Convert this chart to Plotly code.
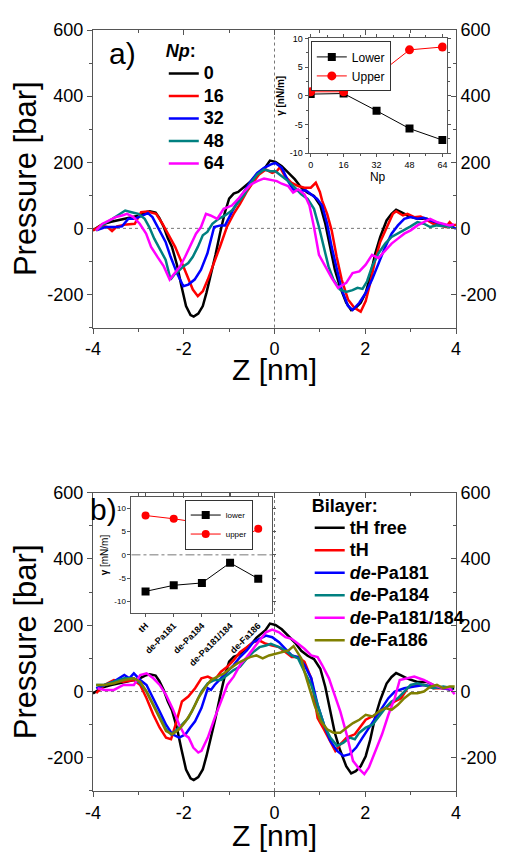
import plotly.graph_objects as go

FONT = "Arial, 'Liberation Sans', sans-serif"

# ---------------- panel a) pressure profiles (Z [nm], P [bar]) ----------------
np0 = [(-4.0, -6), (-3.8, 12), (-3.6, 20), (-3.4, 26), (-3.2, 30), (-3.0, 38), (-2.85, 48), (-2.75, 52),
       (-2.62, 48), (-2.54, 32), (-2.44, 4), (-2.35, -30), (-2.26, -56), (-2.15, -110), (-2.05, -175),
       (-1.95, -235), (-1.85, -262), (-1.78, -267), (-1.68, -258), (-1.58, -235), (-1.5, -195), (-1.4, -140),
       (-1.3, -80), (-1.2, -15), (-1.1, 45), (-1.0, 90), (-0.9, 105), (-0.8, 110), (-0.7, 122), (-0.6, 132),
       (-0.5, 145), (-0.4, 162), (-0.3, 175), (-0.2, 185), (-0.1, 205), (0.02, 201), (0.16, 188), (0.3, 168),
       (0.45, 148), (0.59, 123), (0.73, 108), (0.87, 98), (1.01, 69), (1.12, 14), (1.23, -56), (1.33, -125),
       (1.44, -175), (1.58, -225), (1.69, -247), (1.79, -240), (1.9, -225), (2.01, -195), (2.11, -145),
       (2.22, -76), (2.33, -26), (2.47, 24), (2.58, 44), (2.68, 56), (2.79, 49), (2.93, 39), (3.15, 29),
       (3.36, 29), (3.58, 14), (3.79, 9), (3.96, 9)]

np16 = [(-4.0, -6), (-3.82, 9), (-3.68, 4), (-3.58, -8), (-3.47, 6), (-3.26, 12), (-3.08, 14), (-2.94, 49),
        (-2.8, 51), (-2.61, 44), (-2.47, 14), (-2.33, -21), (-2.19, -56), (-2.04, -105), (-1.9, -155),
        (-1.8, -185), (-1.69, -205), (-1.58, -190), (-1.47, -155), (-1.33, -105), (-1.19, -51), (-1.05, 4),
        (-0.9, 44), (-0.76, 74), (-0.62, 109), (-0.48, 138), (-0.34, 163), (-0.19, 178), (-0.05, 168),
        (0.05, 173), (0.12, 185), (0.23, 158), (0.37, 138), (0.52, 128), (0.66, 123), (0.8, 123), (0.91, 138),
        (1.0, 110), (1.05, 84), (1.16, 44), (1.26, -6), (1.37, -86), (1.48, -155), (1.62, -215), (1.76, -240),
        (1.9, -252), (2.01, -220), (2.11, -165), (2.22, -95), (2.33, -41), (2.47, 4), (2.61, 44), (2.68, 52),
        (2.83, 39), (2.93, 44), (3.08, 34), (3.22, 36), (3.36, 24), (3.5, 14), (3.64, 9), (3.78, 4),
        (3.86, 19), (3.93, 9), (4.0, 11)]

np32 = [(-3.93, -6), (-3.72, 4), (-3.5, 4), (-3.36, 6), (-3.22, 29), (-3.08, 29), (-2.9, 39), (-2.79, 46),
        (-2.69, 34), (-2.54, -6), (-2.4, -41), (-2.29, -86), (-2.15, -135), (-2.01, -175), (-1.9, -170),
        (-1.76, -155), (-1.62, -125), (-1.48, -76), (-1.33, 4), (-1.19, 9), (-1.09, 9), (-0.94, 49),
        (-0.8, 84), (-0.66, 113), (-0.52, 143), (-0.38, 168), (-0.23, 183), (-0.09, 193), (0.02, 198),
        (0.16, 183), (0.3, 143), (0.41, 118), (0.55, 113), (0.69, 115), (0.8, 103), (0.94, 89), (1.05, 69),
        (1.16, 14), (1.26, -56), (1.37, -125), (1.48, -185), (1.62, -235), (1.72, -247), (1.87, -225),
        (2.01, -195), (2.15, -155), (2.29, -105), (2.44, -56), (2.58, -16), (2.72, 9), (2.86, 29), (3.0, 34),
        (3.15, 29), (3.29, 32), (3.43, 24), (3.65, 16), (3.86, 6), (4.0, -1)]

np48 = [(-3.93, -6), (-3.75, 14), (-3.57, 29), (-3.4, 44), (-3.29, 54), (-3.15, 49), (-3.0, 44), (-2.86, 29),
        (-2.76, 4), (-2.65, -31), (-2.51, -66), (-2.4, -95), (-2.29, -155), (-2.21, -140), (-2.12, -130),
        (-2.01, -115), (-1.9, -105), (-1.8, -86), (-1.69, -56), (-1.58, -21), (-1.48, -11), (-1.37, 14),
        (-1.23, 29), (-1.09, 39), (-0.94, 54), (-0.8, 79), (-0.66, 103), (-0.52, 138), (-0.38, 163),
        (-0.23, 178), (-0.09, 173), (0.02, 173), (0.16, 158), (0.3, 143), (0.45, 123), (0.59, 103),
        (0.73, 89), (0.87, 59), (0.98, 4), (1.08, -56), (1.19, -115), (1.3, -155), (1.44, -185),
        (1.58, -192), (1.72, -187), (1.83, -180), (1.94, -183), (2.04, -160), (2.15, -115), (2.29, -76),
        (2.44, -46), (2.58, -26), (2.72, -16), (2.86, -6), (3.0, 6), (3.15, 19), (3.29, 14), (3.43, 4),
        (3.58, 9), (3.75, 6), (3.93, 4)]

np64 = [(-3.93, -6), (-3.79, 14), (-3.64, 24), (-3.5, 34), (-3.36, 39), (-3.25, 44), (-3.11, 34),
        (-2.97, 14), (-2.83, -16), (-2.72, -56), (-2.58, -86), (-2.44, -115), (-2.31, -155), (-2.22, -140),
        (-2.08, -115), (-1.97, -86), (-1.87, -56), (-1.73, -16), (-1.62, 4), (-1.51, 44), (-1.41, 39),
        (-1.26, 29), (-1.12, 59), (-0.94, 69), (-0.8, 89), (-0.66, 113), (-0.52, 133), (-0.38, 143),
        (-0.23, 151), (-0.09, 148), (0.05, 143), (0.16, 135), (0.3, 128), (0.41, 108), (0.52, 118),
        (0.66, 103), (0.77, 69), (0.87, 4), (0.98, -80), (1.12, -115), (1.26, -150), (1.4, -180),
        (1.58, -165), (1.72, -135), (1.87, -130), (2.01, -110), (2.15, -80), (2.29, -90), (2.44, -66),
        (2.58, -46), (2.72, -31), (2.86, -16), (3.0, -6), (3.15, 9), (3.29, 19), (3.43, 29), (3.58, 19),
        (3.72, 14), (3.86, 9), (3.96, 12)]

np_labels = ["0", "16", "32", "48", "64"]
np_colors = ["#000000", "#ff0000", "#0000ff", "#008080", "#ff00ff"]
np_series = [np0, np16, np32, np48, np64]

# inset a): surface tension vs Np
inset_a_np = [0, 16, 32, 48, 64]
inset_a_lower = [0.3, 0.4, -2.6, -5.7, -7.7]
inset_a_upper = [0.7, 0.7, 3.5, 8.0, 8.5]

# ---------------- panel b) pressure profiles ----------------
th_free = np0  # same free bilayer profile

th = [(-3.93, -5), (-3.75, 20), (-3.54, 35), (-3.33, 30), (-3.1, 35), (-2.96, 20), (-2.82, -20),
      (-2.67, -70), (-2.53, -109), (-2.39, -139), (-2.28, -144), (-2.18, -100), (-2.04, -30), (-1.9, -15),
      (-1.75, 10), (-1.61, 40), (-1.47, 45), (-1.32, 35), (-1.18, 60), (-1.04, 75), (-0.9, 95), (-0.76, 119),
      (-0.61, 134), (-0.47, 149), (-0.33, 154), (-0.19, 144), (-0.05, 139), (0.1, 134), (0.24, 119),
      (0.38, 104), (0.52, 104), (0.66, 90), (0.81, 40), (0.95, -80), (1.09, -114), (1.23, -149),
      (1.34, -179), (1.45, -159), (1.59, -139), (1.77, -129), (1.87, -109), (2.01, -85), (2.23, -70),
      (2.44, -50), (2.65, -30), (2.79, -20), (2.93, 10), (3.08, 20), (3.29, 20), (3.5, 10), (3.72, 10),
      (3.93, 5)]

de_pa181 = [(-3.93, 10), (-3.75, 20), (-3.54, 30), (-3.31, 50), (-3.2, 40), (-3.1, 55), (-2.96, 35),
            (-2.82, 20), (-2.67, -20), (-2.53, -60), (-2.39, -100), (-2.25, -129), (-2.1, -139),
            (-1.96, -129), (-1.86, -109), (-1.75, -90), (-1.61, -50), (-1.47, 10), (-1.4, 5), (-1.32, 20),
            (-1.18, 40), (-1.04, 60), (-0.9, 80), (-0.76, 104), (-0.61, 124), (-0.47, 149), (-0.33, 159),
            (-0.19, 169), (-0.05, 164), (0.1, 149), (0.24, 129), (0.38, 109), (0.52, 104), (0.66, 80),
            (0.81, 40), (0.95, -40), (1.09, -100), (1.23, -149), (1.38, -179), (1.52, -194), (1.66, -189),
            (1.8, -169), (1.94, -139), (2.08, -109), (2.23, -80), (2.37, -50), (2.51, -20), (2.65, 0),
            (2.86, 10), (3.08, 15), (3.29, 20), (3.5, 15), (3.72, 10), (3.93, 5)]

de_pa184 = [(-3.93, 20), (-3.75, 20), (-3.54, 30), (-3.31, 40), (-3.1, 40), (-2.96, 25), (-2.82, 0),
            (-2.67, -40), (-2.53, -80), (-2.39, -114), (-2.28, -129), (-2.18, -119), (-2.04, -100),
            (-1.9, -80), (-1.75, -40), (-1.61, 0), (-1.47, 25), (-1.32, 35), (-1.18, 35), (-1.04, 50),
            (-0.9, 65), (-0.76, 75), (-0.61, 100), (-0.47, 119), (-0.33, 134), (-0.19, 139), (-0.08, 144),
            (0.1, 134), (0.24, 124), (0.38, 109), (0.52, 100), (0.66, 60), (0.81, 20), (0.95, -40),
            (1.09, -100), (1.23, -139), (1.38, -164), (1.52, -154), (1.66, -139), (1.77, -144), (1.87, -124),
            (2.01, -109), (2.16, -100), (2.3, -75), (2.44, -50), (2.58, -30), (2.72, -20), (2.86, 0),
            (3.0, 20), (3.15, 25), (3.29, 20), (3.5, 10), (3.72, 15), (3.93, 10)]

de_pa181_184 = [(-3.9, 10), (-3.75, 5), (-3.54, 5), (-3.33, 20), (-3.1, 20), (-2.96, 50), (-2.82, 55),
                (-2.67, 40), (-2.53, 20), (-2.39, -10), (-2.25, -50), (-2.1, -100), (-1.99, -129),
                (-1.89, -139), (-1.79, -169), (-1.68, -184), (-1.61, -179), (-1.47, -139), (-1.32, -80),
                (-1.18, -30), (-1.04, 20), (-0.9, 45), (-0.76, 80), (-0.61, 104), (-0.47, 129), (-0.33, 154),
                (-0.19, 179), (-0.05, 187), (0.1, 179), (0.24, 164), (0.38, 159), (0.52, 144), (0.66, 129),
                (0.81, 109), (0.95, 104), (1.05, 80), (1.2, 40), (1.3, 0), (1.45, -60), (1.59, -129),
                (1.73, -209), (1.87, -234), (1.98, -249), (2.08, -229), (2.23, -179), (2.37, -129),
                (2.51, -70), (2.65, -20), (2.76, 35), (2.93, 40), (3.08, 45), (3.29, 35), (3.5, 20),
                (3.72, 10), (3.86, 10), (3.97, -8)]

de_fa186 = [(-3.93, 20), (-3.75, 20), (-3.54, 25), (-3.31, 35), (-3.1, 40), (-2.96, 30), (-2.82, 0),
            (-2.67, -40), (-2.53, -80), (-2.39, -119), (-2.25, -129), (-2.1, -114), (-1.96, -90),
            (-1.82, -60), (-1.68, -20), (-1.54, 10), (-1.4, 35), (-1.25, 45), (-1.11, 55), (-0.97, 70),
            (-0.82, 85), (-0.68, 95), (-0.54, 104), (-0.4, 109), (-0.26, 100), (-0.12, 109), (0.02, 114),
            (0.17, 119), (0.31, 124), (0.42, 137), (0.52, 114), (0.59, 100), (0.66, 60), (0.77, 10),
            (0.88, -40), (1.02, -90), (1.16, -114), (1.3, -124), (1.45, -124), (1.59, -109), (1.73, -95),
            (1.87, -85), (2.01, -70), (2.16, -75), (2.3, -60), (2.44, -50), (2.58, -55), (2.72, -40),
            (2.86, -20), (3.0, -5), (3.15, -5), (3.29, 0), (3.44, 15), (3.58, 20), (3.72, 10), (3.86, 15),
            (3.97, 15)]

bil_labels = ["<b>tH free</b>", "<b>tH</b>", "<b><i>de</i>-Pa181</b>", "<b><i>de</i>-Pa184</b>",
              "<b><i>de</i>-Pa181/184</b>", "<b><i>de</i>-Fa186</b>"]
bil_colors = ["#000000", "#ff0000", "#0000ff", "#008080", "#ff00ff", "#808000"]
bil_series = [th_free, th, de_pa181, de_pa184, de_pa181_184, de_fa186]

# inset b): surface tension per system
inset_b_sys = ["tH", "de-Pa181", "de-Pa184", "de-Pa181/184", "de-Fa186"]
inset_b_lower = [-7.8, -6.5, -6.0, -1.7, -5.1]
inset_b_upper = [8.4, 7.7, 6.8, 2.3, 5.55]

# tick values / labels (plain hyphen-minus as in the original)
z_ticks = [-4, -2, 0, 2, 4]
p_ticks = [-200, 0, 200, 400, 600]
ga_ticks = [-10, -5, 0, 5, 10]

# ---------------- figure ----------------
BIG = '<span style="font-size:18px">{}</span>'
LW = 2.5

fig = go.Figure()

for pts, lab, col in zip(np_series, np_labels, np_colors):
    fig.add_trace(go.Scatter(x=[p[0] for p in pts], y=[p[1] for p in pts], mode="lines",
                             line=dict(color=col, width=LW), name=BIG.format("<b>" + lab + "</b>"),
                             xaxis="x", yaxis="y", legend="legend"))

for pts, lab, col in zip(bil_series, bil_labels, bil_colors):
    fig.add_trace(go.Scatter(x=[p[0] for p in pts], y=[p[1] for p in pts], mode="lines",
                             line=dict(color=col, width=LW), name=BIG.format(lab),
                             xaxis="x3", yaxis="y3", legend="legend2"))

fig.add_trace(go.Scatter(x=inset_a_np, y=inset_a_lower, mode="lines+markers", name="Lower",
                         line=dict(color="black", width=1), marker=dict(symbol="square", size=8, color="black"),
                         xaxis="x2", yaxis="y2", legend="legend3"))
fig.add_trace(go.Scatter(x=inset_a_np, y=inset_a_upper, mode="lines+markers", name="Upper",
                         line=dict(color="#ff0000", width=1), marker=dict(symbol="circle", size=9, color="#ff0000"),
                         xaxis="x2", yaxis="y2", legend="legend3"))

fig.add_trace(go.Scatter(x=inset_b_sys, y=inset_b_lower, mode="lines+markers", name="lower",
                         line=dict(color="black", width=1), marker=dict(symbol="square", size=8, color="black"),
                         xaxis="x4", yaxis="y4", legend="legend4"))
fig.add_trace(go.Scatter(x=inset_b_sys, y=inset_b_upper, mode="lines+markers", name="upper",
                         line=dict(color="#ff0000", width=1), marker=dict(symbol="circle", size=8, color="#ff0000"),
                         xaxis="x4", yaxis="y4", legend="legend4"))

# placeholder traces so the mirrored (right / top) axes are rendered
for xa, ya in [("x", "y5"), ("x5", "y"), ("x3", "y6"), ("x6", "y3")]:
    fig.add_trace(go.Scatter(x=[None], y=[None], mode="lines", xaxis=xa, yaxis=ya,
                             showlegend=False, hoverinfo="skip"))

AX = "#555555"
tickfont = dict(family=FONT, size=18, color="black")

def txt(vals):
    return [str(v) for v in vals]

def main_x(anchor):
    return dict(anchor=anchor, domain=[0, 1], range=[-4, 4], tickvals=z_ticks, ticktext=txt(z_ticks),
                showline=True, linecolor=AX, linewidth=1, ticks="outside", ticklen=5, tickcolor=AX,
                minor=dict(dtick=1, tick0=-4, ticks="outside", ticklen=3, tickcolor=AX),
                showgrid=False, zeroline=False, tickfont=tickfont)

def main_y(dom, anchor):
    return dict(anchor=anchor, domain=dom, range=[-300, 600], tickvals=p_ticks, ticktext=txt(p_ticks),
                showline=True, linecolor=AX, linewidth=1, ticks="outside", ticklen=5, tickcolor=AX,
                minor=dict(dtick=100, tick0=0, ticks="outside", ticklen=3, tickcolor=AX),
                showgrid=False, zeroline=False, tickfont=tickfont,
                title=dict(text="Pressure [bar]", font=dict(family=FONT, size=31, color="black"), standoff=6))

def right_y(over, anchor):
    return dict(overlaying=over, side="right", anchor=anchor, range=[-300, 600],
                tickvals=p_ticks, ticktext=txt(p_ticks),
                showline=True, linecolor=AX, linewidth=1, ticks="inside", ticklen=5, tickcolor=AX,
                minor=dict(dtick=100, tick0=0, ticks="inside", ticklen=3, tickcolor=AX),
                showgrid=False, zeroline=False, tickfont=tickfont)

def top_x(over, anchor):
    return dict(overlaying=over, side="top", anchor=anchor, range=[-4, 4], tickvals=z_ticks,
                showline=True, linecolor=AX, linewidth=1, ticks="inside", ticklen=5, tickcolor=AX,
                minor=dict(dtick=1, tick0=-4, ticks="inside", ticklen=3, tickcolor=AX),
                showticklabels=False, showgrid=False, zeroline=False)

small = dict(family=FONT, size=9, color="black")

fig.update_layout(
    width=501, height=844,
    margin=dict(l=80, r=46, t=13, b=61),
    paper_bgcolor="white", plot_bgcolor="rgba(0,0,0,0)",
    font=dict(family=FONT, color="black"),
    xaxis=main_x("y"),
    yaxis=main_y([0.609, 1.0], "x"),
    yaxis5=right_y("y", "x"),
    xaxis5=top_x("x", "y"),
    xaxis3=main_x("y3"),
    yaxis3=main_y([0.0, 0.392], "x3"),
    yaxis6=right_y("y3", "x3"),
    xaxis6=top_x("x3", "y3"),
    xaxis2=dict(anchor="y2", domain=[0.594, 0.974], range=[-1, 66], tickvals=inset_a_np,
                showline=True, mirror="ticks", linecolor=AX, linewidth=1, ticks="outside", ticklen=3,
                tickcolor=AX, minor=dict(dtick=8, tick0=0, ticks="outside", ticklen=2, tickcolor=AX),
                showgrid=False, zeroline=False, tickfont=small,
                title=dict(text="Np", font=dict(family=FONT, size=12), standoff=2)),
    yaxis2=dict(anchor="x2", domain=[0.838, 0.989], range=[-10, 10], tickvals=ga_ticks, ticktext=txt(ga_ticks),
                showline=True, mirror="ticks", linecolor=AX, linewidth=1, ticks="outside", ticklen=3,
                tickcolor=AX, minor=dict(dtick=2.5, tick0=0, ticks="outside", ticklen=2, tickcolor=AX),
                showgrid=False, zeroline=False, tickfont=small,
                title=dict(text="<b>γ [nN/m]</b>", font=dict(family=FONT, size=10), standoff=3)),
    xaxis4=dict(anchor="y4", domain=[0.106, 0.494], type="category", range=[-0.5, 4.5],
                showline=True, mirror="ticks", linecolor=AX, linewidth=1, ticks="outside", ticklen=3,
                tickcolor=AX, tickangle=-45, showgrid=False, zeroline=False,
                tickfont=dict(family=FONT, size=9, color="black", weight="bold")),
    yaxis4=dict(anchor="x4", domain=[0.234, 0.386], range=[-12.4, 12.3], tickvals=ga_ticks, ticktext=txt(ga_ticks),
                showline=True, mirror="ticks", linecolor=AX, linewidth=1, ticks="outside", ticklen=3,
                tickcolor=AX, showgrid=False, zeroline=False, tickfont=dict(family=FONT, size=8, color="black"),
                title=dict(text="<b>γ</b> [mN/m]", font=dict(family=FONT, size=10), standoff=3)),
    legend=dict(x=0.195, y=0.995, xanchor="left", yanchor="top", bgcolor="rgba(0,0,0,0)",
                font=dict(family=FONT, size=15, color="black"), tracegroupgap=0,
                title=dict(text="<b><i>Np</i>:</b>", font=dict(family=FONT, size=18))),
    legend2=dict(x=0.597, y=0.398, xanchor="left", yanchor="top", bgcolor="rgba(0,0,0,0)",
                 font=dict(family=FONT, size=15, color="black"), tracegroupgap=0,
                 title=dict(text="<b>Bilayer:</b>", font=dict(family=FONT, size=18))),
    legend3=dict(x=0.6, y=0.985, xanchor="left", yanchor="top", bgcolor="white",
                 bordercolor="#333", borderwidth=1, font=dict(family=FONT, size=12, color="black"),
                 tracegroupgap=0),
    legend4=dict(x=0.44, y=0.383, xanchor="right", yanchor="top", bgcolor="white",
                 bordercolor="#333", borderwidth=1, font=dict(family=FONT, size=8, color="black"),
                 tracegroupgap=0),
    shapes=[
        dict(type="line", xref="x", yref="y domain", x0=0, x1=0, y0=0, y1=1, layer="below",
             line=dict(color="#777", width=1, dash="dot")),
        dict(type="line", xref="x domain", yref="y", x0=0, x1=1, y0=0, y1=0, layer="below",
             line=dict(color="#777", width=1, dash="dot")),
        dict(type="line", xref="x3", yref="y3 domain", x0=0, x1=0, y0=0, y1=1, layer="below",
             line=dict(color="#777", width=1, dash="dot")),
        dict(type="line", xref="x3 domain", yref="y3", x0=0, x1=1, y0=0, y1=0, layer="below",
             line=dict(color="#777", width=1, dash="dot")),
        dict(type="line", xref="x4 domain", yref="y4", x0=0, x1=1, y0=0, y1=0, layer="below",
             line=dict(color="#777", width=1, dash="dashdot")),
    ],
    annotations=[
        dict(text="a)", x=0.08, y=0.969, xref="paper", yref="paper", showarrow=False,
             xanchor="center", yanchor="middle", font=dict(family=FONT, size=30, color="black")),
        dict(text="b)", x=0.028, y=0.37, xref="paper", yref="paper", showarrow=False,
             xanchor="center", yanchor="middle", font=dict(family=FONT, size=30, color="black")),
        dict(text="Z [nm]", x=0.5, y=0.554, xref="paper", yref="paper", showarrow=False,
             xanchor="center", yanchor="middle", font=dict(family=FONT, size=30, color="black")),
        dict(text="Z [nm]", x=0.5, y=-0.058, xref="paper", yref="paper", showarrow=False,
             xanchor="center", yanchor="middle", font=dict(family=FONT, size=30, color="black")),
    ],
)

fig.write_html("out.html")
